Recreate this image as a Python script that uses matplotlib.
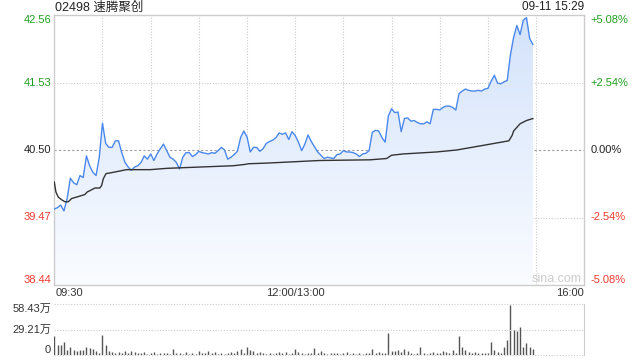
import matplotlib

matplotlib.use('Agg')

import numpy as np
import matplotlib.pyplot as plt
from matplotlib.colors import LinearSegmentedColormap

# header texts
title = '02498 速腾聚创'
stamp = '09-11 15:29'

# price axis
prev_close = 40.50
p_top, p_bot = 42.56, 38.44
left_ticks = [42.56, 41.53, 40.50, 39.47, 38.44]
right_ticks = ['+5.08%', '+2.54%', '0.00%', '-2.54%', '-5.08%']
time_labels = ['09:30', '12:00/13:00', '16:00']

# last price, one value every 2 minutes from 09:30 (trading minutes)
price = [39.60, 39.62, 39.66, 39.57, 39.76, 40.07, 40.00, 39.97, 40.11, 40.08,
         40.41, 40.26, 40.16, 40.11, 40.39, 40.91, 40.60, 40.54, 40.54, 40.64,
         40.64, 40.46, 40.31, 40.24, 40.19, 40.24, 40.26, 40.31, 40.41, 40.36,
         40.44, 40.34, 40.44, 40.52, 40.59, 40.49, 40.39, 40.36, 40.31, 40.21,
         40.39, 40.46, 40.46, 40.40, 40.43, 40.48, 40.46, 40.45, 40.44, 40.46,
         40.45, 40.49, 40.54, 40.50, 40.36, 40.39, 40.43, 40.48, 40.69, 40.79,
         40.70, 40.47, 40.54, 40.54, 40.48, 40.52, 40.60, 40.63, 40.65, 40.69,
         40.76, 40.74, 40.76, 40.66, 40.78, 40.72, 40.62, 40.49, 40.59, 40.73,
         40.63, 40.55, 40.47, 40.42, 40.37, 40.39, 40.38, 40.37, 40.43, 40.44,
         40.49, 40.47, 40.47, 40.46, 40.44, 40.40, 40.44, 40.45, 40.49, 40.77,
         40.80, 40.79, 40.69, 40.62, 41.02, 41.13, 41.07, 41.08, 40.78, 40.98,
         40.99, 40.94, 40.95, 40.92, 40.90, 40.90, 40.93, 40.90, 41.12, 41.12,
         41.11, 41.15, 41.17, 41.17, 41.15, 41.11, 41.36, 41.40, 41.43, 41.41,
         41.40, 41.40, 41.41, 41.40, 41.43, 41.44, 41.55, 41.64, 41.52, 41.51,
         41.54, 41.56, 41.95, 42.22, 42.40, 42.26, 42.48, 42.52, 42.20, 42.11]

# average price line (minute, value)
avg_min = [0, 1, 2.5, 4.6, 6.6, 8.7, 10.8, 15, 19, 20.5, 22.2, 25.3, 28.4, 29.5,
           30.5, 32.2, 34.7, 40.9, 45, 59.6, 70, 80.3, 90.7, 111.5, 118.7, 120.8,
           132.2, 148.8, 165.4, 196.5, 206.9, 210, 217.3, 238, 250.5, 269.2, 283,
           285, 286, 290, 294, 298]
avg_val = [40.01, 39.86, 39.78, 39.74, 39.71, 39.71, 39.76, 39.79, 39.82, 39.86,
           39.88, 39.92, 39.92, 39.96, 40.06, 40.14, 40.15, 40.18, 40.20, 40.20,
           40.22, 40.23, 40.24, 40.26, 40.28, 40.29, 40.30, 40.32, 40.34, 40.35,
           40.37, 40.42, 40.44, 40.47, 40.50, 40.58, 40.64, 40.72, 40.79, 40.90,
           40.95, 40.98]

# volume (万), every 2 minutes
vol_max = 58.43
vol_labels = ['58.43万', '29.21万', '0']
volume = [22.0, 11.5, 11.5, 15.4, 5.8, 8.8, 5.8, 4.6, 5.8, 5.8,
          8.8, 7.7, 6.5, 5.0, 2.0, 23.0, 11.5, 5.0, 3.8, 2.7,
          3.8, 2.2, 4.6, 2.0, 5.0, 3.5, 1.8, 2.4, 3.8, 1.6,
          2.0, 3.2, 1.5, 2.1, 1.8, 2.6, 1.4, 6.5, 1.9, 2.2,
          1.5, 3.8, 1.7, 2.0, 1.6, 4.6, 2.2, 1.8, 5.0, 2.5,
          3.0, 1.5, 2.0, 1.4, 2.2, 3.8, 2.4, 5.0, 6.5, 2.0,
          8.8, 5.8, 4.6, 1.8, 3.8, 2.0, 1.5, 2.2, 1.6, 1.9,
          3.2, 2.0, 3.8, 1.7, 2.4, 6.5, 3.0, 2.0, 1.6, 2.4,
          1.8, 7.7, 2.2, 5.0, 2.6, 1.5, 2.0, 1.8, 2.4, 1.6,
          2.2, 3.8, 1.5, 2.0, 1.7, 2.1, 1.6, 2.4, 1.8, 6.5,
          2.6, 3.2, 2.0, 2.4, 25.7, 4.6, 4.6, 5.8, 3.8, 6.5,
          4.6, 2.0, 1.6, 2.4, 8.8, 2.0, 1.6, 2.2, 3.8, 1.8,
          2.4, 5.0, 3.8, 2.0, 5.8, 2.4, 21.9, 8.8, 5.8, 3.8,
          2.2, 3.8, 2.0, 1.8, 2.4, 2.0, 15.0, 5.8, 3.8, 2.4,
          9.6, 17.3, 57.6, 28.8, 27.6, 32.6, 9.6, 14.2, 8.8, 6.5]

minutes = np.arange(len(price)) * 2

up_c = '#1f9f1f'
dn_c = '#ee3b30'
txt_c = '#333333'
grid_c = '#cccccc'
font_main = ['Liberation Sans', 'Noto Sans CJK SC']

fig = plt.figure(figsize=(6.4, 3.6), dpi=100)
ax = fig.add_axes([54.3 / 640, 75 / 360, 530 / 640, 270 / 360])
ax.set_xlim(0, 330)
ax.set_ylim(p_bot, p_top)

# gradient fill under the price line
poly = ax.fill_between(minutes, price, p_bot, color='none', lw=0)
grad = np.linspace(0, 1, 256).reshape(-1, 1)
cmap = LinearSegmentedColormap.from_list('g', ['#fafcff', '#d3e2fb'])
im = ax.imshow(grad, extent=[0, 330, p_bot, p_top], aspect='auto',
               cmap=cmap, origin='lower', zorder=1)
im.set_clip_path(poly.get_paths()[0], transform=ax.transData)

# grid
for t in range(30, 330, 30):
    ax.axvline(t, color=grid_c, ls=(0, (1, 1.5)), lw=0.8, zorder=0)
for v in [41.53, 39.47]:
    ax.axhline(v, color=grid_c, ls=(0, (1, 1.5)), lw=0.8, zorder=0)
ax.axhline(prev_close, color='#9a9a9a', ls=(0, (2, 2)), lw=0.8, zorder=0)

ax.plot(minutes, price, color='#4a88ec', lw=1.0, zorder=3)
ax.plot(avg_min, avg_val, color='#333333', lw=1.0, zorder=3)

ax.set_xticks([])
ax.set_yticks([])
for s in ax.spines.values():
    s.set_color(grid_c)
    s.set_linewidth(1)

# price / percent labels
ytr = ax.get_yaxis_transform()
for i, (v, pl) in enumerate(zip(left_ticks, right_ticks)):
    c = up_c if v > prev_close else (dn_c if v < prev_close else '#222222')
    va = 'top' if i == 0 else ('bottom' if i == len(left_ticks) - 1 else 'center')
    ax.text(-0.006, v, f'{v:.2f}', transform=ytr, ha='right', va=va,
            color=c, fontsize=8, family=font_main)
    ax.text(1.011, v, pl, transform=ytr, ha='left', va=va,
            color=c, fontsize=8, family=font_main)

# time labels
ax.text(0.002, -0.028, time_labels[0], transform=ax.transAxes, ha='left',
        va='center', color=txt_c, fontsize=8, family=font_main)
ax.text(150 / 330, -0.028, time_labels[1], transform=ax.transAxes, ha='center',
        va='center', color=txt_c, fontsize=8, family=font_main)
ax.text(1.0, -0.028, time_labels[2], transform=ax.transAxes, ha='right',
        va='center', color=txt_c, fontsize=8, family=font_main)

ax.text(532 / 640, 1 - 279 / 360, 'sina.com', transform=fig.transFigure,
        ha='left', va='center', color='#cccccc', fontsize=9, family=font_main)

fig.text(55 / 640, 1 - 7.5 / 360, title, ha='left', va='center',
         color='#222222', fontsize=9, family=font_main)
fig.text(584 / 640, 1 - 7.5 / 360, stamp, ha='right', va='center',
         color='#222222', fontsize=8.5, family=font_main)

# volume panel
vax = fig.add_axes([54.3 / 640, 5 / 360, 530 / 640, 50.7 / 360])
vax.set_xlim(0, 330)
vax.set_ylim(0, vol_max)
vax.vlines(minutes, 0, volume, color='#555555', lw=1.0)
for v in [vol_max, vol_max / 2, 0]:
    vax.axhline(v, color=grid_c, ls=(0, (1, 1.5)), lw=0.8, clip_on=False)
vax.set_xticks([])
vax.set_yticks([])
for k in ['top', 'bottom', 'left']:
    vax.spines[k].set_visible(False)
vax.spines['right'].set_color(grid_c)

vtr = vax.get_yaxis_transform()
for v, lab, va in zip([vol_max, vol_max / 2, 0], vol_labels, ['top', 'center', 'bottom']):
    vax.text(-0.006, v, lab, transform=vtr, ha='right', va=va,
             color=txt_c, fontsize=8, family=font_main)

plt.savefig('out.png', dpi=100)
